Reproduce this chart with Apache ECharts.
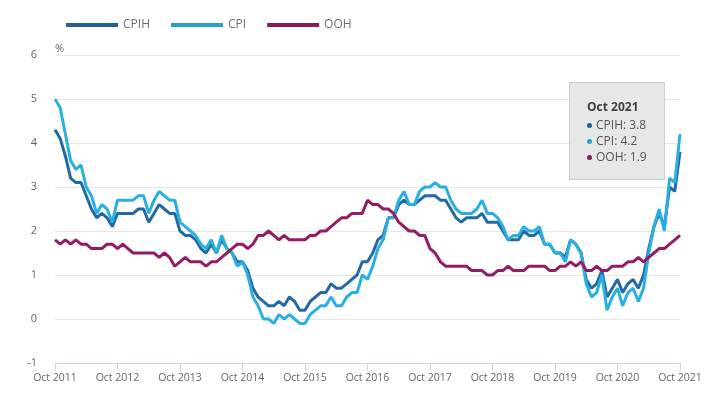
<!DOCTYPE html>
<html>
<head>
<meta charset="utf-8">
<script src="https://cdn.jsdelivr.net/npm/echarts@6/dist/echarts.min.js"></script>
<style>
  html, body { margin: 0; padding: 0; background: #ffffff; }
  #chart { width: 712px; height: 399px; }
</style>
</head>
<body>
<div id="chart"></div>
<script>
// monthly, Oct 2011 .. Oct 2021
const monthNames = ['Jan', 'Feb', 'Mar', 'Apr', 'May', 'Jun', 'Jul', 'Aug', 'Sep', 'Oct', 'Nov', 'Dec'];
const startYear = 2011;
const startMonth = 9; // Oct
const monthCount = 121;

const seriesNames = ['CPIH', 'CPI', 'OOH'];
const seriesColors = ['#206095', '#27a0cc', '#871a5b'];

const cpih = [
  4.3, 4.1, 3.7,
  3.2, 3.1, 3.1, 2.8, 2.5, 2.3, 2.4, 2.3, 2.1, 2.4, 2.4, 2.4,
  2.4, 2.5, 2.5, 2.2, 2.4, 2.6, 2.5, 2.4, 2.4, 2.0, 1.9, 1.9,
  1.8, 1.6, 1.5, 1.7, 1.5, 1.8, 1.6, 1.5, 1.3, 1.3, 1.1, 0.7,
  0.5, 0.4, 0.3, 0.3, 0.4, 0.3, 0.5, 0.4, 0.2, 0.2, 0.4, 0.5,
  0.6, 0.6, 0.8, 0.7, 0.7, 0.8, 0.9, 1.0, 1.3, 1.3, 1.5, 1.8,
  1.9, 2.3, 2.3, 2.6, 2.7, 2.6, 2.6, 2.7, 2.8, 2.8, 2.8, 2.7,
  2.7, 2.5, 2.3, 2.2, 2.3, 2.3, 2.3, 2.4, 2.2, 2.2, 2.2, 2.0,
  1.8, 1.8, 1.8, 2.0, 1.9, 1.9, 2.0, 1.7, 1.7, 1.5, 1.5, 1.4,
  1.8, 1.7, 1.5, 0.9, 0.7, 0.8, 1.1, 0.5, 0.7, 0.9, 0.6, 0.8,
  0.9, 0.7, 1.0, 1.6, 2.1, 2.4, 2.1, 3.0, 2.9, 3.8
];

const cpi = [
  5.0, 4.8, 4.2,
  3.6, 3.4, 3.5, 3.0, 2.8, 2.4, 2.6, 2.5, 2.2, 2.7, 2.7, 2.7,
  2.7, 2.8, 2.8, 2.4, 2.7, 2.9, 2.8, 2.7, 2.7, 2.2, 2.1, 2.0,
  1.9, 1.7, 1.6, 1.8, 1.5, 1.9, 1.6, 1.5, 1.2, 1.3, 1.0, 0.5,
  0.3, 0.0, 0.0, -0.1, 0.1, 0.0, 0.1, 0.0, -0.1, -0.1, 0.1, 0.2,
  0.3, 0.3, 0.5, 0.3, 0.3, 0.5, 0.6, 0.6, 1.0, 0.9, 1.2, 1.6,
  1.8, 2.3, 2.3, 2.7, 2.9, 2.6, 2.6, 2.9, 3.0, 3.0, 3.1, 3.0,
  3.0, 2.7, 2.5, 2.4, 2.4, 2.4, 2.5, 2.7, 2.4, 2.4, 2.3, 2.1,
  1.8, 1.9, 1.9, 2.1, 2.0, 2.0, 2.1, 1.7, 1.7, 1.5, 1.5, 1.3,
  1.8, 1.7, 1.5, 0.8, 0.5, 0.6, 1.0, 0.2, 0.5, 0.7, 0.3, 0.6,
  0.7, 0.4, 0.7, 1.5, 2.1, 2.5, 2.0, 3.2, 3.1, 4.2
];

const ooh = [
  1.8, 1.7, 1.8,
  1.7, 1.8, 1.7, 1.7, 1.6, 1.6, 1.6, 1.7, 1.7, 1.6, 1.7, 1.6,
  1.5, 1.5, 1.5, 1.5, 1.5, 1.4, 1.5, 1.4, 1.2, 1.3, 1.4, 1.3,
  1.3, 1.3, 1.2, 1.3, 1.3, 1.4, 1.5, 1.6, 1.7, 1.7, 1.6, 1.7,
  1.9, 1.9, 2.0, 1.9, 1.8, 1.9, 1.8, 1.8, 1.8, 1.8, 1.9, 1.9,
  2.0, 2.0, 2.1, 2.2, 2.3, 2.3, 2.4, 2.4, 2.4, 2.7, 2.6, 2.6,
  2.5, 2.5, 2.4, 2.2, 2.1, 2.0, 2.0, 1.9, 1.9, 1.6, 1.5, 1.3,
  1.2, 1.2, 1.2, 1.2, 1.2, 1.1, 1.1, 1.1, 1.0, 1.0, 1.1, 1.1,
  1.2, 1.1, 1.1, 1.1, 1.2, 1.2, 1.2, 1.2, 1.1, 1.1, 1.2, 1.2,
  1.3, 1.2, 1.3, 1.1, 1.1, 1.2, 1.1, 1.1, 1.2, 1.2, 1.2, 1.3,
  1.3, 1.4, 1.3, 1.4, 1.5, 1.6, 1.6, 1.7, 1.8, 1.9
];

const categories = [];
for (let i = 0; i < monthCount; i++) {
  const m = (startMonth + i) % 12;
  const y = startYear + Math.floor((startMonth + i) / 12);
  categories.push(monthNames[m] + ' ' + y);
}

const chart = echarts.init(document.getElementById('chart'));

const option = {
  animation: false,
  color: seriesColors,
  textStyle: { fontFamily: 'Open Sans' },
  legend: {
    left: 61,
    top: 14,
    icon: 'rect',
    itemWidth: 52,
    itemHeight: 4,
    itemGap: 21,
    textStyle: { fontSize: 12, color: '#707070', fontFamily: 'Open Sans' },
    data: seriesNames
  },
  tooltip: {
    trigger: 'axis',
    triggerOn: 'none',
    alwaysShowContent: true,
    transitionDuration: 0,
    axisPointer: { type: 'none' },
    position: [569, 82],
    backgroundColor: '#e6e7e7',
    borderColor: '#cccccc',
    borderWidth: 1,
    padding: [16, 17, 14, 17],
    extraCssText: 'box-shadow:none;border-radius:0;',
    formatter: function (params) {
      let html = '<div style="font-family:Open Sans;font-size:12px;line-height:16px;font-weight:bold;color:#414042;margin-bottom:2px">' + params[0].axisValue + '</div>';
      params.forEach(function (p) {
        html += '<div style="font-family:Open Sans;font-size:12px;line-height:16px;color:#555555">' +
          '<span style="display:inline-block;width:5px;height:5px;border-radius:50%;background:' + p.color + ';margin-right:4px;vertical-align:middle"></span>' +
          p.seriesName + ': ' + p.value + '</div>';
      });
      return html;
    }
  },
  grid: { left: 55, right: 32, top: 55, bottom: 36 },
  xAxis: {
    type: 'category',
    data: categories,
    boundaryGap: false,
    axisLine: { onZero: false, lineStyle: { color: '#ccd6eb' } },
    axisTick: { interval: 11, length: 8, lineStyle: { color: '#ccd6eb' } },
    axisLabel: { interval: 11, fontSize: 10.5, color: '#666666', margin: 10, fontFamily: 'Open Sans' },
    splitLine: { show: false }
  },
  yAxis: {
    type: 'value',
    min: -1,
    max: 6,
    interval: 1,
    name: '%',
    nameLocation: 'end',
    nameGap: 6,
    nameTextStyle: { align: 'left', verticalAlign: 'middle', fontSize: 11, color: '#666666', fontFamily: 'Open Sans' },
    axisLine: { show: false },
    axisTick: { show: false },
    axisLabel: { fontSize: 11, color: '#666666', margin: 18, fontFamily: 'Open Sans' },
    splitLine: { lineStyle: { color: '#e6e6e6', width: 1 } }
  },
  series: [
    { name: seriesNames[0], type: 'line', data: cpih, symbol: 'none', lineStyle: { width: 3 } },
    { name: seriesNames[1], type: 'line', data: cpi, symbol: 'none', lineStyle: { width: 3 } },
    { name: seriesNames[2], type: 'line', data: ooh, symbol: 'none', lineStyle: { width: 3 } }
  ]
};

chart.setOption(option);
chart.dispatchAction({ type: 'showTip', seriesIndex: 0, dataIndex: monthCount - 1 });
</script>
</body>
</html>
